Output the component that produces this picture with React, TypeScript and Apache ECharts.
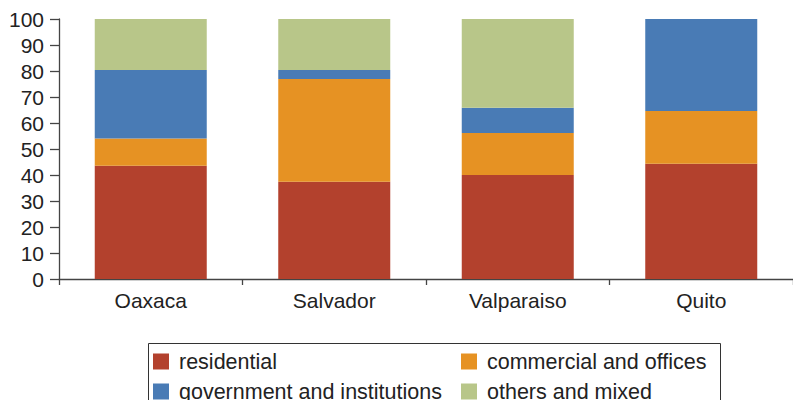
import React, { useEffect, useRef } from "react";
import * as echarts from "echarts";

const categories = ["Oaxaca", "Salvador", "Valparaiso", "Quito"];
const seriesNames = [
  "residential",
  "commercial and offices",
  "government and institutions",
  "others and mixed",
];
const residential = [43.6, 37.4, 40.0, 44.3];
const commercial = [10.4, 39.5, 16.2, 20.3];
const government = [26.4, 3.5, 9.7, 35.4];
const others = [19.6, 19.6, 34.1, 0];
const colors = ["#B3412D", "#E69223", "#497BB5", "#B8C689"];
const yTicks = [0, 100, 10];

const FONT = "'Liberation Sans', Arial, Helvetica, sans-serif";

export default function App() {
  const ref = useRef<HTMLDivElement>(null);
  useEffect(() => {
    if (!ref.current) return;
    const chart = echarts.init(ref.current, undefined, { renderer: "svg" });
    const values = [residential, commercial, government, others];
    const legendText = {
      fontSize: 21.5,
      color: "#222",
      fontFamily: FONT,
      padding: [0, 0, 0, 5],
    };
    const legendBase = {
      orient: "vertical",
      top: 350.5,
      height: 90,
      itemWidth: 16,
      itemHeight: 16,
      itemGap: 8,
      icon: "rect",
      padding: 0,
      textStyle: legendText,
    };
    chart.setOption({
      animation: false,
      grid: { left: 59, right: -4, top: 19, bottom: 121, containLabel: false },
      xAxis: {
        type: "category",
        data: categories,
        axisLine: { lineStyle: { color: "#444", width: 1.3 } },
        axisTick: { show: true, length: 6, lineStyle: { color: "#444", width: 1.3 } },
        axisLabel: { fontSize: 21, color: "#222", fontFamily: FONT, margin: 11 },
      },
      yAxis: {
        type: "value",
        min: yTicks[0],
        max: yTicks[1],
        interval: yTicks[2],
        splitLine: { show: false },
        axisLine: { show: true, lineStyle: { color: "#444", width: 1.3 } },
        axisTick: { show: true, length: 9, lineStyle: { color: "#444", width: 1.3 } },
        axisLabel: { fontSize: 21, color: "#222", fontFamily: FONT, margin: 15 },
      },
      legend: [
        { ...legendBase, data: [seriesNames[0], seriesNames[2]], left: 153 },
        { ...legendBase, data: [seriesNames[1], seriesNames[3]], left: 461 },
      ],
      graphic: [
        {
          type: "rect",
          left: 146,
          top: 341,
          shape: { x: 0, y: 0, width: 572, height: 80 },
          style: { fill: "none", stroke: "#333", lineWidth: 1 },
          silent: true,
        },
      ],
      series: seriesNames.map((name, i) => ({
        name,
        type: "bar",
        stack: "total",
        barWidth: 112,
        data: values[i],
        itemStyle: { color: colors[i] },
      })),
    });
    return () => chart.dispose();
  }, []);
  return <div ref={ref} style={{ width: 793, height: 400, position: "absolute", left: 0, top: 0 }} />;
}
